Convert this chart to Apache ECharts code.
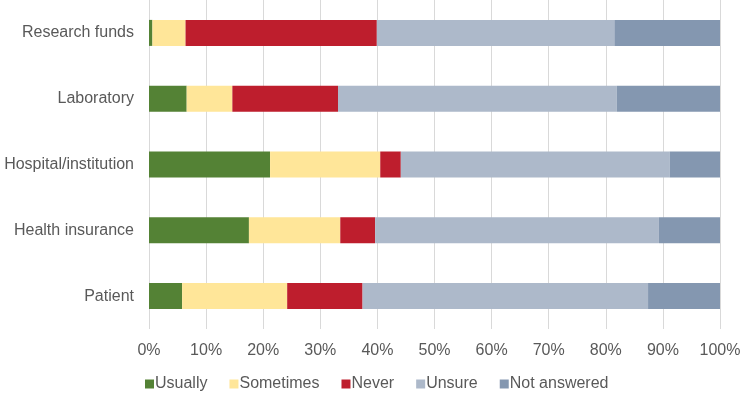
<!DOCTYPE html>
<html>
<head>
<meta charset="utf-8">
<script src="https://cdn.jsdelivr.net/npm/echarts@6/dist/echarts.min.js"></script>
<style>
  html, body { margin: 0; padding: 0; background: #fff; }
  #main { width: 740px; height: 393px; }
</style>
</head>
<body>
<div id="main"></div>
<script>
// categories, top to bottom
var categories = ["Research funds", "Laboratory", "Hospital/institution", "Health insurance", "Patient"];
// percentages
var usually     = [0.6, 6.6, 21.2, 17.5, 5.8];
var sometimes   = [5.8, 8.0, 19.3, 16.0, 18.4];
var never       = [33.5, 18.5, 3.6, 6.1, 13.2];
var unsure      = [41.6, 48.8, 47.1, 49.7, 50.0];
var notAnswered = [18.5, 18.1, 8.8, 10.7, 12.6];

var myChart = echarts.init(document.getElementById('main'));

function bar(name, data, color) {
    return {
        name: name,
        type: 'bar',
        stack: 'total',
        barWidth: 26,
        itemStyle: { color: color },
        data: data
    };
}

var option = {
    animation: false,
    textStyle: { fontFamily: 'Liberation Sans, Arial, sans-serif' },
    grid: { left: 149, right: 20, top: 0, bottom: 64, outerBoundsMode: 'none', containLabel: false },
    legend: {
        left: 140,
        bottom: -4,
        itemWidth: 9,
        itemHeight: 9,
        itemGap: 22,
        icon: 'rect',
        textStyle: { fontSize: 16, color: '#595959', padding: [0, 0, 0, -4] },
        data: ["Usually", "Sometimes", "Never", "Unsure", "Not answered"]
    },
    xAxis: {
        type: 'value',
        min: 0,
        max: 100,
        interval: 10,
        axisLine: { show: false },
        axisTick: { show: false },
        splitLine: { lineStyle: { color: '#d9d9d9', width: 1 } },
        axisLabel: { formatter: '{value}%', fontSize: 16, color: '#595959', margin: 14 }
    },
    yAxis: {
        type: 'category',
        inverse: true,
        data: categories,
        axisLine: { show: false },
        axisTick: { show: false },
        axisLabel: { fontSize: 16, color: '#595959', margin: 15 }
    },
    series: [
        bar("Usually", usually, '#548235'),
        bar("Sometimes", sometimes, '#FFE699'),
        bar("Never", never, '#BE1E2D'),
        bar("Unsure", unsure, '#ADB9CA'),
        bar("Not answered", notAnswered, '#8497B0')
    ]
};

myChart.setOption(option);
</script>
</body>
</html>
